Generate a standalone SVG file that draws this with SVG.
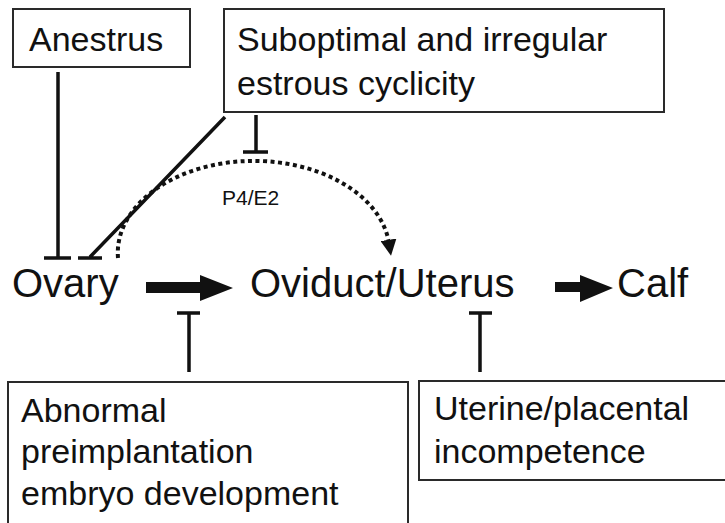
<svg xmlns="http://www.w3.org/2000/svg" width="725" height="523" viewBox="0 0 725 523">
<defs>
<style>
.box{fill:#fff;stroke:#2a2a2a;stroke-width:2}
.t{font-family:"Liberation Sans",Arial,sans-serif;fill:#111}
.b{font-size:34px}
.m{font-size:40px}
.inh{stroke:#111;stroke-width:3.5;fill:none}
.dot{stroke:#111;stroke-width:4;fill:none;stroke-dasharray:4 3.5}
.fat{fill:#111}
</style>
<marker id="ah" viewBox="0 0 10 10" refX="2" refY="5" markerWidth="4" markerHeight="4" orient="auto" markerUnits="strokeWidth">
<path d="M0,0 L10,5 L0,10 z" fill="#111"/>
</marker>
</defs>
<rect width="725" height="523" fill="#fff"/>
<g id="anestrus">
<rect class="box" x="13" y="9" width="177" height="58"/>
<text class="t b" x="29" y="51">Anestrus</text>
</g>
<g id="suboptimal">
<rect class="box" x="224" y="9" width="440" height="103"/>
<text class="t b" x="237" y="51">Suboptimal and irregular</text>
<text class="t b" x="237" y="95">estrous cyclicity</text>
</g>
<g id="ovary">
<text class="t m" x="12" y="297">Ovary</text>
</g>
<g id="oviduct">
<text class="t m" x="250" y="297">Oviduct/Uterus</text>
</g>
<g id="calf">
<text class="t m" x="617" y="297">Calf</text>
</g>
<g id="abnormal">
<rect class="box" x="8" y="382" width="400" height="160"/>
<text class="t b" x="21" y="422">Abnormal</text>
<text class="t b" x="21" y="463">preimplantation</text>
<text class="t b" x="21" y="505">embryo development</text>
</g>
<g id="uterine">
<rect class="box" x="419" y="381" width="320" height="99"/>
<text class="t b" x="434" y="420">Uterine/placental</text>
<text class="t b" x="434" y="463">incompetence</text>
</g>
<g id="connectors">
<path class="inh" d="M58,72 V258 M44,258 H71"/>
<path class="inh" d="M225,117 L90,257 M78,258 H102"/>
<path class="inh" d="M256,115 V152 M243,152 H268"/>
<path class="dot" d="M118,258 A136,92 0 0 1 389,243" marker-end="url(#ah)"/>
<text class="t" x="222" y="205" font-size="21">P4/E2</text>
<polygon class="fat" points="146,282 200,282 200,275 233,288 200,301 200,293 146,293"/>
<polygon class="fat" points="555,282 580,282 580,275 613,288 580,302 580,292 555,292"/>
<path class="inh" d="M189,313 V372 M177,313 H200"/>
<path class="inh" d="M480,313 V372 M469,313 H492"/>
</g>
</svg>
